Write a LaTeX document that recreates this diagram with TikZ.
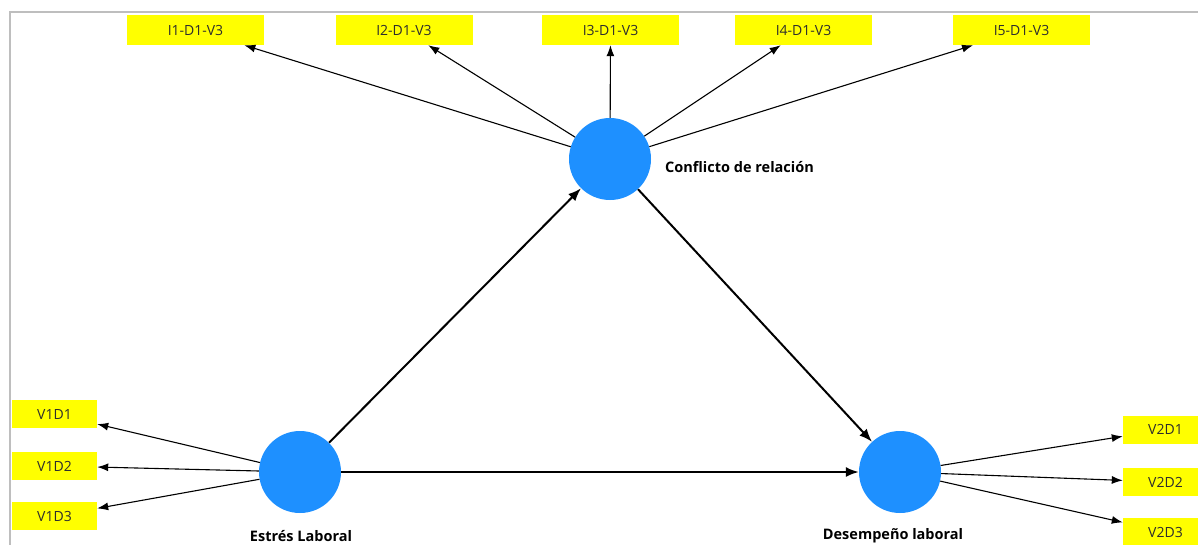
\documentclass[tikz,border=0pt]{standalone}
\usepackage{fontspec}
\setmainfont{Open Sans}
\usetikzlibrary{arrows.meta}
\definecolor{lvblue}{RGB}{30,144,255}
\definecolor{indyellow}{RGB}{255,255,0}
\definecolor{frame}{RGB}{190,190,190}
\definecolor{indtext}{RGB}{45,45,45}
\begin{document}
\begin{tikzpicture}[x=1pt,y=-1pt,
  ind/.style={fill=indyellow, minimum width=137pt, minimum height=30pt, inner sep=0pt,
    font=\fontsize{14}{16}\selectfont, text=indtext},
  indv/.style={ind, minimum width=85pt, minimum height=28pt},
  lv/.style={circle, fill=lvblue, minimum size=82pt, inner sep=0pt},
  lvlabel/.style={font=\bfseries\fontsize{14.5}{16}\selectfont, text=black, inner sep=0pt},
  thin arrow/.style={-{Latex[length=11pt,width=8pt]}, line width=1.1pt, black},
  thick arrow/.style={-{Latex[length=13pt,width=10pt]}, line width=2pt, black}
]
\useasboundingbox (0,0) rectangle (1198,544);
\fill[white] (0,0) rectangle (1198,544);
\draw[frame, line width=2pt] (10,546) -- (10,12) -- (1200,12);

% indicators top
\node[ind] (i1) at (195.5,30) {I1-D1-V3};
\node[ind] (i2) at (404,30) {I2-D1-V3};
\node[ind] (i3) at (610.5,30) {I3-D1-V3};
\node[ind] (i4) at (803.5,30) {I4-D1-V3};
\node[ind] (i5) at (1021.5,30) {I5-D1-V3};

% indicators left
\node[indv] (v11) at (54.5,414) {V1D1};
\node[indv] (v12) at (54.5,466) {V1D2};
\node[indv] (v13) at (54.5,516) {V1D3};

% indicators right
\node[indv] (v21) at (1165.5,429.5) {V2D1};
\node[indv] (v22) at (1165.5,482) {V2D2};
\node[indv] (v23) at (1165.5,532) {V2D3};

% latent variables
\node[lv] (cr) at (610,159) {};
\node[lv] (el) at (300,472) {};
\node[lv] (dl) at (900,472) {};

\node[lvlabel, anchor=west] (crl) at (665,167) {Conflicto de relación};
\node[lvlabel] (ell) at (301,536) {Estrés Laboral};
\node[lvlabel] (dll) at (893,536) {Desempeño laboral};

% outer loadings
\foreach \t in {i1,i2,i3,i4,i5} \draw[thin arrow] (cr) -- (\t);
\foreach \t in {v11,v12,v13} \draw[thin arrow] (el) -- (\t);
\foreach \t in {v21,v22,v23} \draw[thin arrow] (dl) -- (\t);

% structural paths
\draw[thick arrow] (el) -- (cr);
\draw[thick arrow] (cr) -- (dl);
\draw[thick arrow] (el) -- (dl);
\end{tikzpicture}
\end{document}
